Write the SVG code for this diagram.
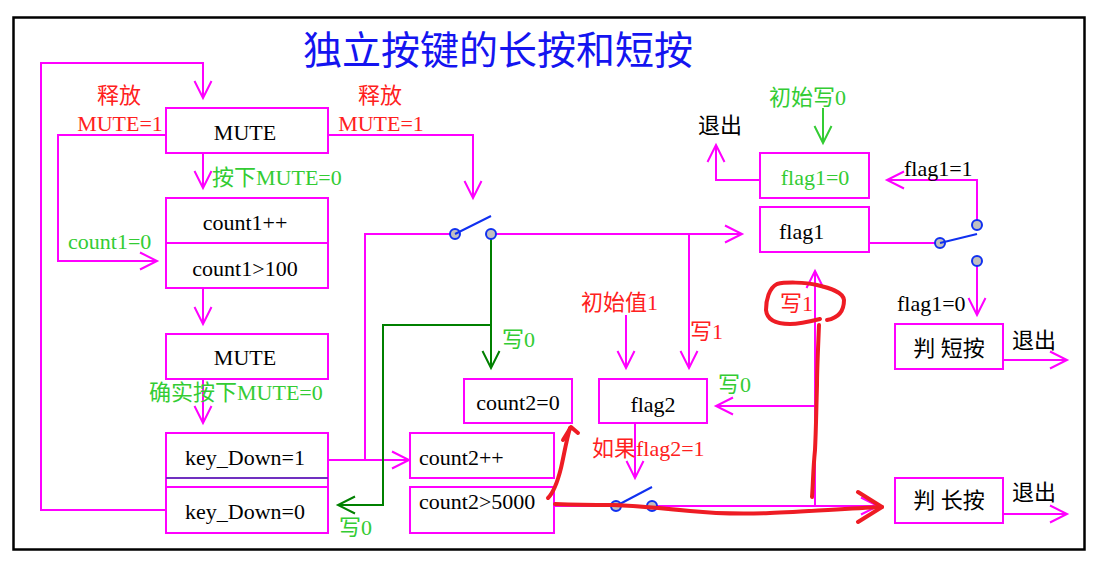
<svg xmlns="http://www.w3.org/2000/svg" width="1115" height="566" viewBox="0 0 1115 566">
<style>
.box{fill:#fff;stroke:#ff00ff;stroke-width:2}
.ln{fill:none;stroke:#ff00ff;stroke-width:2}
.gl{fill:none;stroke:#008000;stroke-width:2}
.lg{fill:none;stroke:#33cc33;stroke-width:2}
.rd{fill:none;stroke:#ee1c24;stroke-width:4;stroke-linecap:round;stroke-linejoin:round}
.sw{fill:#c0c0c0;stroke:#1030f0;stroke-width:2}
.lev{stroke:#1030f0;stroke-width:2}
text{font-family:"Liberation Serif","Noto Sans CJK SC",serif;font-size:22px}
.k{fill:#000}
.r{fill:#ff2020}
.g{fill:#33cc33}
.c{text-anchor:middle}
.ttl{fill:#1414f0;font-size:39px}
</style>
<defs>
<marker id="am" markerUnits="userSpaceOnUse" markerWidth="40" markerHeight="40" viewBox="-20 -20 40 40" refX="0" refY="0" orient="auto"><path d="M-17,-8.5 L0,0 L-17,8.5" fill="none" stroke="#ff00ff" stroke-width="2"/></marker>
<marker id="ag" markerUnits="userSpaceOnUse" markerWidth="40" markerHeight="40" viewBox="-20 -20 40 40" refX="0" refY="0" orient="auto"><path d="M-17,-8.5 L0,0 L-17,8.5" fill="none" stroke="#008000" stroke-width="2"/></marker>
<marker id="alg" markerUnits="userSpaceOnUse" markerWidth="40" markerHeight="40" viewBox="-20 -20 40 40" refX="0" refY="0" orient="auto"><path d="M-17,-8.5 L0,0 L-17,8.5" fill="none" stroke="#33cc33" stroke-width="2"/></marker>
</defs>
<rect x="0" y="0" width="1115" height="566" fill="#fff"/>
<rect x="13.5" y="17.5" width="1071" height="532" fill="none" stroke="#000" stroke-width="2.5"/>
<text class="ttl c" x="498" y="64">独立按键的长按和短按</text>

<g id="connectors">
<path class="ln" d="M166,510 H41 V63 H203 V98" marker-end="url(#am)"/>
<path class="ln" d="M166,135 H58 V261 H157" marker-end="url(#am)"/>
<path class="ln" d="M328,135 H473 V198" marker-end="url(#am)"/>
<path class="ln" d="M203,153 V188" marker-end="url(#am)"/>
<path class="ln" d="M203,288 V324" marker-end="url(#am)"/>
<path class="ln" d="M203,379 V423" marker-end="url(#am)"/>
<path class="ln" d="M365,460 V234 H450"/>
<path class="ln" d="M496,234 H742" marker-end="url(#am)"/>
<path class="ln" d="M328,460 H409" marker-end="url(#am)"/>
<path class="ln" d="M689,234 V368" marker-end="url(#am)"/>
<path class="ln" d="M626,315 V368" marker-end="url(#am)"/>
<path class="ln" d="M869,243 H935"/>
<path class="ln" d="M977,220 V180 H887" marker-end="url(#am)"/>
<path class="ln" d="M977,266 V315" marker-end="url(#am)"/>
<path class="ln" d="M1003,360 H1067" marker-end="url(#am)"/>
<path class="ln" d="M1003,514 H1067" marker-end="url(#am)"/>
<path class="ln" d="M760,180 H716 V145" marker-end="url(#am)"/>
<path class="ln" d="M635,423 V478" marker-end="url(#am)"/>
<path class="ln" d="M657,506 H878" marker-end="url(#am)"/>
<path class="ln" d="M815,506 V271" marker-end="url(#am)"/>
<path class="ln" d="M815,406 H716" marker-end="url(#am)"/>
<path class="ln" d="M554,506 H611"/>
<path class="gl" d="M491,239 V368" marker-end="url(#ag)"/>
<path class="gl" d="M491,325 H383 V505 H338" marker-end="url(#ag)"/>
<path class="lg" d="M823,108 V143" marker-end="url(#alg)"/>
</g>

<g id="switch1">
<circle class="sw" cx="455" cy="234" r="5"/>
<circle class="sw" cx="491" cy="234" r="5"/>
<line class="lev" x1="455" y1="234" x2="491" y2="216"/>
</g>
<g id="switch2">
<circle class="sw" cx="616" cy="506" r="5"/>
<circle class="sw" cx="652" cy="506" r="5"/>
<line class="lev" x1="616" y1="506" x2="652" y2="487"/>
</g>
<g id="switch3">
<circle class="sw" cx="940" cy="243" r="5"/>
<circle class="sw" cx="977" cy="225" r="5"/>
<circle class="sw" cx="977" cy="261" r="5"/>
<line class="lev" x1="940" y1="243" x2="977" y2="234"/>
</g>

<g id="mute1"><rect class="box" x="166" y="108" width="162" height="45"/><text class="k c" x="245" y="140">MUTE</text></g>
<g id="count1">
<rect class="box" x="166" y="198" width="162" height="90"/>
<line class="ln" x1="166" y1="243" x2="328" y2="243"/>
<text class="k c" x="245" y="230">count1++</text>
<text class="k c" x="245" y="276">count1&gt;100</text>
</g>
<g id="mute2"><rect class="box" x="166" y="334" width="162" height="45"/><text class="k c" x="245" y="365">MUTE</text></g>
<g id="keydown">
<rect class="box" x="166" y="433" width="162" height="100"/>
<line x1="166" y1="478" x2="328" y2="478" stroke="#7030c0" stroke-width="2"/>
<line class="ln" x1="166" y1="487" x2="328" y2="487"/>
<text class="k c" x="245" y="465">key_Down=1</text>
<text class="k c" x="245" y="519">key_Down=0</text>
</g>
<g id="count2">
<rect class="box" x="410" y="433" width="144" height="45"/>
<rect class="box" x="410" y="487" width="144" height="46"/>
<text class="k" x="419" y="465">count2++</text>
<text class="k" x="419" y="509">count2&gt;5000</text>
</g>
<g id="count2zero"><rect class="box" x="464" y="379" width="108" height="44"/><text class="k c" x="518" y="410">count2=0</text></g>
<g id="flag2"><rect class="box" x="599" y="379" width="108" height="44"/><text class="k c" x="653" y="412">flag2</text></g>
<g id="flag1zero"><rect class="box" x="760" y="153" width="109" height="45"/><text class="g c" x="815" y="185">flag1=0</text></g>
<g id="flag1"><rect class="box" x="760" y="207" width="109" height="45"/><text class="k" x="779" y="239">flag1</text></g>
<g id="short"><rect class="box" x="895" y="324" width="108" height="45"/><text class="k c" x="949" y="356" font-size="24">判 短按</text></g>
<g id="long"><rect class="box" x="895" y="478" width="108" height="45"/><text class="k c" x="949" y="508" font-size="24">判 长按</text></g>

<g id="labels">
<text class="r c" x="119" y="103">释放</text>
<text class="r c" x="120" y="131">MUTE=1</text>
<text class="r c" x="380" y="103">释放</text>
<text class="r c" x="381" y="131">MUTE=1</text>
<text class="g" x="212" y="185">按下MUTE=0</text>
<text class="g" x="68" y="249">count1=0</text>
<text class="g" x="149" y="400">确实按下MUTE=0</text>
<text class="g" x="339" y="535">写0</text>
<text class="g" x="502" y="347">写0</text>
<text class="r" x="581" y="310">初始值1</text>
<text class="r" x="690" y="339">写1</text>
<text class="g" x="718" y="392">写0</text>
<text class="r" x="592" y="456">如果flag2=1</text>
<text class="r" x="780" y="311">写1</text>
<text class="g" x="769" y="105">初始写0</text>
<text class="k" x="698" y="133">退出</text>
<text class="k" x="904" y="176">flag1=1</text>
<text class="k" x="897" y="311">flag1=0</text>
<text class="k" x="1012" y="348">退出</text>
<text class="k" x="1012" y="500">退出</text>
</g>

<g id="annotations">
<path class="rd" d="M827,320 C838,318 844,312 844,300 C843,292 830,288 817,285 C805,282 785,282 777,284 C769,288 766,300 766,310 C767,320 775,324 790,324 C800,324 812,321 820,319"/>
<path class="rd" d="M819,325 C818,350 817,370 817,385 C816,420 816,430 815,450 C813,470 813,485 812,497"/>
<path class="rd" d="M555,504 C580,505 600,505 613,505 C640,506 660,508 690,511 C720,514 745,514 770,513 C800,512 840,509 882,507"/>
<path class="rd" d="M858,492 L882,507 L858,522"/>
<path class="rd" d="M548,498 C554,492 558,480 561,468 C564,455 566,442 570,428"/>
<path class="rd" d="M563,440 L571,427 L578,433"/>
</g>
</svg>
